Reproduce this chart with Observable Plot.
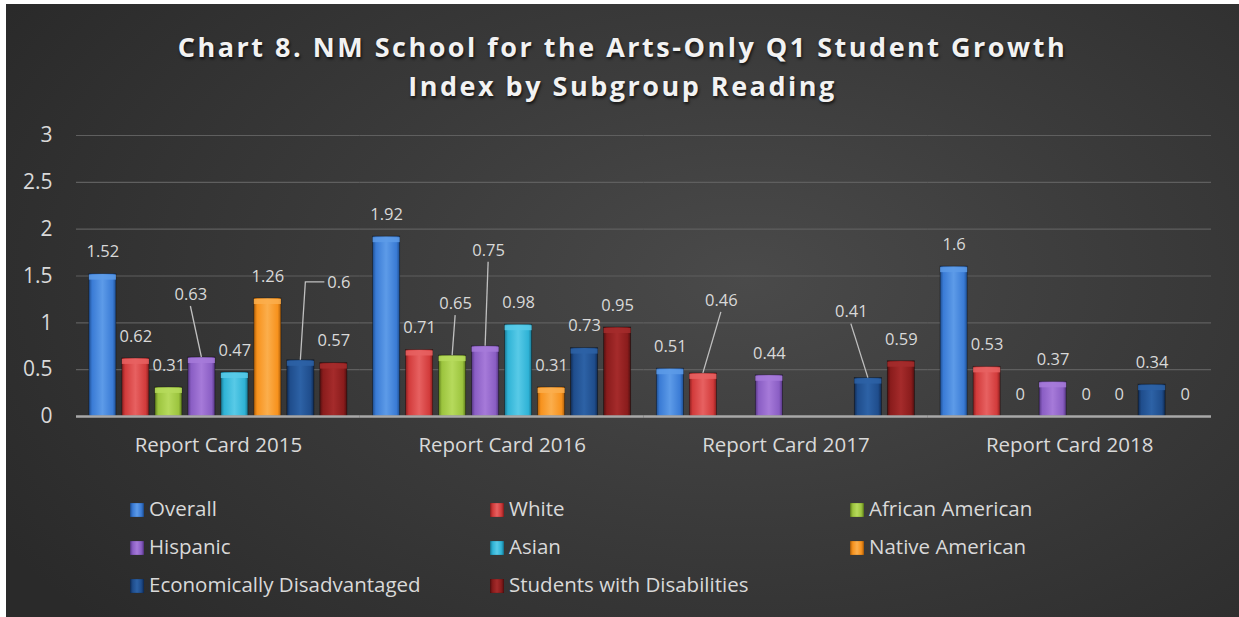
<!DOCTYPE html>
<html>
<head>
<meta charset="utf-8">
<script src="https://cdn.jsdelivr.net/npm/d3@7"></script>
<script src="https://cdn.jsdelivr.net/npm/@observablehq/plot@0.6"></script>
<style>
  html, body { margin: 0; padding: 0; background: #ffffff; width: 1239px; height: 617px; overflow: hidden; }
  #panel {
    position: absolute; left: 6px; top: 4px; width: 1233px; height: 613px;
    background: radial-gradient(ellipse 70% 85% at 60% 45%, #4a4a4a 0%, #3b3b3b 45%, #2a2a2a 100%);
  }
  #title {
    position: absolute; left: 6px; top: 27px; width: 1233px; text-align: center;
    font-family: "Open Sans", sans-serif; font-weight: 700; font-size: 27px; letter-spacing: 2.5px;
    line-height: 39px; color: #f2f2f2; text-shadow: 1px 2px 3px rgba(0,0,0,0.7);
  }
  #chart { position: absolute; left: 0; top: 0; }
  .leg { position: absolute; font-family: "Open Sans", sans-serif; font-size: 20.5px; color: #d9d9d9; line-height: 24px; white-space: nowrap; }
  .sw { display: inline-block; width: 14px; height: 14px; margin-right: 5px; vertical-align: -1px; box-shadow: inset 0 0 1px rgba(0,0,0,0.7); }
</style>
</head>
<body>
<div id="panel"></div>
<svg width="0" height="0" style="position:absolute">
  <defs id="grads"></defs>
</svg>
<div id="title">Chart 8. NM School for the Arts-Only Q1 Student Growth<br>Index by Subgroup Reading</div>
<div id="chart"></div>
<div id="legend"></div>
<script>
// ---- data ----
const years = ["Report Card 2015", "Report Card 2016", "Report Card 2017", "Report Card 2018"];
const subgroups = ["Overall", "White", "African American", "Hispanic", "Asian", "Native American", "Economically Disadvantaged", "Students with Disabilities"];
const overall = [1.52, 1.92, 0.51, 1.6];
const white = [0.62, 0.71, 0.46, 0.53];
const africanAmerican = [0.31, 0.65, null, 0];
const hispanic = [0.63, 0.75, 0.44, 0.37];
const asian = [0.47, 0.98, null, 0];
const nativeAmerican = [1.26, 0.31, null, 0];
const economicallyDisadvantaged = [0.6, 0.73, 0.41, 0.34];
const studentsWithDisabilities = [0.57, 0.95, 0.59, 0];
const yTicks = [0, 0.5, 1, 1.5, 2, 2.5, 3];

const series = [overall, white, africanAmerican, hispanic, asian, nativeAmerican, economicallyDisadvantaged, studentsWithDisabilities];

// ---- styling ----
const palette = [
  {base: "#3a7bd5", light: "#5d9be8", dark: "#1f4f92"},
  {base: "#d23b3b", light: "#e76161", dark: "#8c1f1f"},
  {base: "#9cc43e", light: "#b6da5c", dark: "#5f7e1c"},
  {base: "#8a5ec4", light: "#a67ad9", dark: "#573786"},
  {base: "#2fb3d6", light: "#58cae7", dark: "#197893"},
  {base: "#f7921d", light: "#fbae4c", dark: "#b0600a"},
  {base: "#1f4d8c", light: "#2d62a6", dark: "#112c55"},
  {base: "#8a1c1c", light: "#a52b2b", dark: "#531010"}
];
const defs = d3.select("#grads");
palette.forEach((c, i) => {
  const g = defs.append("linearGradient").attr("id", "grad" + i).attr("x1", 0).attr("x2", 1).attr("y1", 0).attr("y2", 0);
  [[0, c.dark], [0.12, c.base], [0.5, c.light], [0.88, c.base], [1, c.dark]].forEach(([o, col]) =>
    g.append("stop").attr("offset", o).attr("stop-color", col));
});

// label callouts (pixel offsets of label from bar top)
const callouts = {
  "Report Card 2015|Hispanic": {dx: -11, dy: -63},
  "Report Card 2015|Economically Disadvantaged": {dx: 38, dy: -78, elbow: true},
  "Report Card 2016|African American": {dx: 3, dy: -52},
  "Report Card 2016|Hispanic": {dx: 3, dy: -96},
  "Report Card 2017|White": {dx: 18, dy: -73},
  "Report Card 2017|Economically Disadvantaged": {dx: -17, dy: -66}
};

const rows = [];
years.forEach((yr, j) => subgroups.forEach((s, i) => {
  const v = series[i][j];
  if (v !== null) rows.push({year: yr, subgroup: s, value: v, idx: i});
}));
const key = d => d.year + "|" + d.subgroup;
const plain = rows.filter(d => !callouts[key(d)]);
const called = rows.filter(d => callouts[key(d)]);

const labelMarks = called.map(d => {
  const c = callouts[key(d)];
  return Plot.text([d], {fx: "year", x: "subgroup", y: "value", text: d => String(d.value),
    dx: c.dx, dy: c.dy, fill: "#d9d9d9", fontSize: 16.5});
});

const leaderMark = Plot.dot(called, {
  fx: "year", x: "subgroup", y: "value", r: 0,
  render: (index, scales, values) => {
    const g = d3.create("svg:g").attr("fill", "none").attr("stroke", "#c0c0c0").attr("stroke-width", 1.3);
    const bx = scales.x && scales.x.bandwidth ? scales.x.bandwidth() / 2 : 0;
    for (const i of index) {
      const c = callouts[key(called[i])];
      const x = values.x[i] + bx, y = values.y[i];
      const lx = x + c.dx, ly = y + c.dy;
      let pts;
      if (c.elbow) pts = [[x, y], [x + 5, ly], [lx - 14, ly]];
      else pts = [[lx, ly + 12], [x, y]];
      g.append("path").attr("d", d3.line()(pts));
    }
    return g.node();
  }
});

const chart = Plot.plot({
  width: 1239, height: 461,
  marginTop: 135, marginBottom: 45, marginLeft: 76, marginRight: 28,
  style: {background: "transparent", color: "#d9d9d9", fontFamily: "Open Sans, sans-serif", fontSize: "16px", overflow: "visible"},
  fx: {domain: years, padding: 0, round: false, label: null},
  x: {domain: subgroups, paddingInner: 0.18, paddingOuter: 0.39, round: false, axis: null},
  y: {domain: [0, 3], label: null},
  marks: [
    Plot.ruleY(yTicks.filter(t => t > 0), {y: d => d, stroke: "#5f5f5f", strokeWidth: 1.2}),
    Plot.barY(rows, {fx: "year", x: "subgroup", y: "value",
      fill: d => `url(#grad${d.idx})`, stroke: "rgba(0,0,0,0.45)", strokeWidth: 0.8}),
    Plot.tickY(rows.filter(d => d.value > 0), {fx: "year", x: "subgroup", y: "value",
      stroke: d => palette[d.idx].light, strokeWidth: 5, dy: 3, strokeOpacity: 0.85}),
    Plot.ruleY([0], {stroke: "#a8a8a8", strokeWidth: 2.5}),
    Plot.text(plain, {fx: "year", x: "subgroup", y: "value", text: d => String(d.value),
      dy: -22, fill: "#d9d9d9", fontSize: 16.5}),
    ...labelMarks,
    leaderMark,
    Plot.axisY(yTicks, {tickSize: 0, tickPadding: 24, fontSize: 21, label: null, fill: "#d9d9d9", tickFormat: d => String(d)}),
    Plot.axisFx({anchor: "bottom", tickSize: 0, tickPadding: 21, fontSize: 20.5, label: null, fill: "#d9d9d9"})
  ]
});
document.getElementById("chart").appendChild(chart);

// ---- legend ----
const legCols = [130, 490, 850];
const legRows = [496, 534, 572];
const legend = d3.select("#legend");
subgroups.forEach((s, i) => {
  const c = palette[i];
  const item = legend.append("div").attr("class", "leg")
    .style("left", legCols[i % 3] + "px").style("top", legRows[Math.floor(i / 3)] + "px");
  item.append("span").attr("class", "sw")
    .style("background", `linear-gradient(90deg, ${c.dark} 0%, ${c.base} 20%, ${c.light} 50%, ${c.base} 80%, ${c.dark} 100%)`);
  item.append("span").text(s);
});
</script>
</body>
</html>
